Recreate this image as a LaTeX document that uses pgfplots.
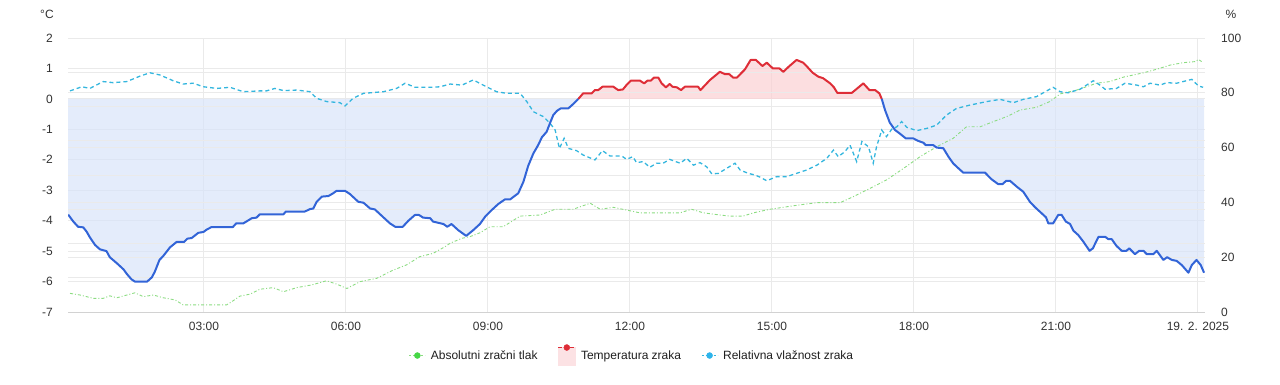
\documentclass[border=0pt]{standalone}
\usepackage{fontspec}
\setmainfont{Liberation Sans}
\usepackage{pgfplots}
\pgfplotsset{compat=1.18}
\usepackage{pgfplotstable}
\usepgfplotslibrary{fillbetween}

\definecolor{tblue}{RGB}{50,100,215}
\definecolor{tred}{RGB}{222,45,55}
\definecolor{bluefill}{RGB}{216,228,249}
\definecolor{pinkfill}{RGB}{251,208,211}
\definecolor{pinkleg}{RGB}{252,226,228}
\definecolor{humcol}{RGB}{52,182,222}
\definecolor{hummark}{RGB}{45,180,235}
\definecolor{prescol}{RGB}{140,220,130}
\definecolor{presmark}{RGB}{70,215,70}
\definecolor{gridcol}{RGB}{234,234,234}
\definecolor{axiscol}{RGB}{210,210,210}
\definecolor{labelcol}{RGB}{50,50,50}
\definecolor{legcol}{RGB}{30,30,30}

% temperature, below zero (blue), 00:00 - 10:55
\pgfplotstableread{
x y
0.13 -3.80
0.24 -4.03
0.34 -4.20
0.45 -4.22
0.52 -4.36
0.59 -4.55
0.70 -4.80
0.80 -4.94
0.94 -5.00
1.01 -5.20
1.16 -5.40
1.30 -5.60
1.37 -5.75
1.47 -5.93
1.54 -6.00
1.80 -6.00
1.90 -5.86
1.96 -5.68
2.06 -5.29
2.14 -5.16
2.28 -4.88
2.42 -4.70
2.58 -4.70
2.65 -4.59
2.74 -4.57
2.88 -4.40
2.99 -4.37
3.06 -4.29
3.16 -4.21
3.61 -4.21
3.68 -4.09
3.83 -4.09
4.01 -3.92
4.11 -3.90
4.18 -3.79
4.68 -3.79
4.73 -3.70
5.13 -3.70
5.24 -3.62
5.31 -3.60
5.38 -3.38
5.49 -3.21
5.63 -3.19
5.73 -3.10
5.80 -3.02
5.98 -3.02
6.08 -3.12
6.26 -3.38
6.37 -3.41
6.51 -3.60
6.61 -3.63
6.79 -3.89
6.93 -4.09
7.04 -4.20
7.20 -4.20
7.32 -4.00
7.46 -3.81
7.54 -3.81
7.63 -3.90
7.78 -3.92
7.84 -4.03
7.95 -4.07
8.06 -4.11
8.14 -4.20
8.23 -4.11
8.37 -4.31
8.54 -4.50
8.69 -4.31
8.83 -4.11
8.94 -3.87
9.08 -3.65
9.22 -3.45
9.36 -3.30
9.47 -3.30
9.64 -3.10
9.75 -2.72
9.85 -2.20
9.96 -1.79
10.06 -1.52
10.14 -1.26
10.24 -1.08
10.31 -0.80
10.38 -0.53
10.46 -0.39
10.54 -0.31
10.70 -0.31
10.80 -0.17
10.91 0.00
}\tempA

% temperature, above zero (red)
\pgfplotstableread{
x y
10.91 0.00
11.01 0.18
11.19 0.18
11.26 0.29
11.33 0.29
11.42 0.40
11.65 0.40
11.75 0.29
11.85 0.31
11.93 0.46
12.02 0.60
12.21 0.60
12.30 0.51
12.37 0.60
12.44 0.60
12.51 0.70
12.60 0.70
12.67 0.51
12.76 0.38
12.84 0.49
12.90 0.40
12.99 0.38
13.08 0.29
13.16 0.40
13.44 0.40
13.49 0.29
13.69 0.62
13.90 0.89
14.01 0.81
14.10 0.81
14.18 0.70
14.26 0.70
14.43 0.97
14.55 1.28
14.66 1.28
14.80 1.08
14.89 1.19
15.02 1.00
15.16 1.00
15.24 0.89
15.37 1.08
15.52 1.28
15.66 1.19
15.73 1.08
15.86 0.86
15.98 0.73
16.08 0.68
16.23 0.51
16.31 0.38
16.38 0.20
16.69 0.20
16.83 0.38
16.93 0.51
17.06 0.29
17.18 0.29
17.27 0.18
17.32 0.00
}\tempB

% temperature, below zero (blue), 17:19 - 24:08
\pgfplotstableread{
x y
17.32 0.00
17.39 -0.37
17.49 -0.78
17.60 -1.02
17.71 -1.15
17.83 -1.30
17.99 -1.30
18.09 -1.38
18.20 -1.44
18.25 -1.52
18.41 -1.52
18.48 -1.60
18.62 -1.62
18.73 -1.90
18.83 -2.12
18.94 -2.28
19.04 -2.42
19.50 -2.42
19.64 -2.64
19.78 -2.80
19.87 -2.80
19.95 -2.69
20.03 -2.69
20.17 -2.88
20.31 -3.05
20.45 -3.38
20.56 -3.56
20.70 -3.76
20.79 -3.89
20.84 -4.09
20.94 -4.09
21.05 -3.81
21.12 -3.81
21.21 -4.03
21.30 -4.11
21.37 -4.33
21.47 -4.47
21.58 -4.69
21.71 -4.99
21.78 -4.91
21.90 -4.53
22.04 -4.53
22.11 -4.61
22.18 -4.61
22.28 -4.83
22.39 -4.99
22.49 -4.99
22.55 -4.91
22.67 -5.10
22.76 -4.99
22.85 -4.99
22.92 -5.10
23.06 -5.10
23.13 -4.99
23.27 -5.29
23.35 -5.20
23.45 -5.29
23.55 -5.32
23.66 -5.46
23.80 -5.71
23.87 -5.46
23.97 -5.29
24.06 -5.46
24.13 -5.71
}\tempC

% relative humidity (%)
\pgfplotstableread{
x y
0.17 80.7
0.27 81.3
0.42 82.2
0.59 81.6
0.87 84.1
1.08 83.7
1.37 84.1
1.65 86.1
1.86 87.3
2.07 86.5
2.35 84.4
2.56 83.2
2.77 83.5
2.99 82.2
3.27 81.6
3.55 82.0
3.83 80.4
4.18 80.7
4.32 80.7
4.50 81.6
4.68 80.8
4.96 81.0
5.24 80.4
5.38 78.0
5.59 76.8
5.87 76.4
5.98 75.2
6.15 78.0
6.37 79.8
6.79 80.4
7.07 81.6
7.25 83.5
7.46 82.0
7.78 82.0
7.99 82.2
8.20 83.2
8.45 82.8
8.69 84.7
8.90 82.8
9.18 80.4
9.40 79.8
9.68 79.8
9.82 76.8
9.96 73.1
10.17 71.3
10.31 68.9
10.42 66.4
10.51 59.7
10.61 63.4
10.70 59.7
10.87 58.9
11.01 57.3
11.26 55.5
11.42 58.9
11.58 56.9
11.83 56.9
11.93 55.7
12.06 56.7
12.14 54.5
12.28 54.9
12.42 52.8
12.56 54.3
12.70 54.3
12.84 55.7
13.06 54.3
13.20 56.1
13.34 53.6
13.48 54.5
13.62 53.0
13.73 50.4
13.87 50.6
14.04 52.4
14.22 54.3
14.33 51.8
14.50 50.6
14.64 50.0
14.75 49.2
14.89 47.9
15.10 49.4
15.31 49.4
15.52 50.6
15.73 51.8
15.95 53.6
16.16 56.1
16.30 59.1
16.40 56.7
16.54 58.5
16.65 60.9
16.79 54.9
16.90 62.2
17.04 60.3
17.14 54.3
17.21 60.3
17.32 66.4
17.42 64.0
17.53 66.7
17.64 67.6
17.74 69.5
17.85 67.4
18.06 66.2
18.27 67.0
18.48 68.2
18.69 71.9
18.90 74.3
19.18 75.5
19.54 76.8
19.82 77.6
20.10 76.4
20.31 77.6
20.59 78.6
20.94 82.0
21.09 80.4
21.26 80.0
21.51 81.3
21.79 84.4
21.93 82.8
22.04 81.3
22.28 81.6
22.46 83.5
22.71 82.8
22.85 82.2
22.99 83.5
23.20 82.8
23.34 83.7
23.55 83.5
23.87 84.9
24.01 82.5
24.11 82.0
}\hum

% absolute air pressure (position on its own hidden scale, 0-100)
\pgfplotstableread{
x y
0.17 6.8
0.38 6.2
0.66 5.0
0.87 5.0
1.01 5.9
1.16 5.2
1.37 6.2
1.54 7.0
1.72 5.6
1.93 6.2
2.14 5.2
2.39 4.4
2.56 2.6
3.48 2.6
3.59 3.8
3.76 5.8
3.97 6.5
4.18 8.3
4.46 8.9
4.68 7.4
4.96 8.9
5.28 9.9
5.59 11.4
5.80 10.2
6.02 8.6
6.30 11.1
6.65 12.3
7.00 15.3
7.28 17.2
7.56 20.2
7.84 21.4
8.09 23.8
8.20 25.1
8.45 26.9
8.62 27.5
8.83 28.9
9.04 31.1
9.32 31.1
9.68 35.0
10.10 35.4
10.42 37.5
10.80 37.5
11.16 39.7
11.37 37.5
11.65 38.2
11.93 37.2
12.21 36.2
12.70 36.2
13.06 36.2
13.30 37.5
13.55 36.2
13.90 35.4
14.11 35.0
14.39 35.0
14.61 36.2
14.96 37.5
15.31 38.4
15.59 39.1
15.95 39.9
16.44 39.9
16.72 42.1
17.07 45.1
17.42 48.2
17.78 52.4
18.13 56.7
18.48 60.3
18.83 63.4
19.11 67.6
19.40 67.6
19.68 69.5
19.96 71.3
20.24 73.7
20.59 74.7
20.87 76.8
21.09 79.6
21.44 81.0
21.86 83.5
22.14 84.1
22.42 85.7
22.85 87.3
23.13 88.6
23.41 90.1
23.69 91.0
23.95 91.4
24.01 92.2
24.11 91.0
}\pres

\begin{document}
\begin{tikzpicture}[font=\fontsize{12}{14}\selectfont]
\path (0,0) rectangle (1280pt,384pt);
\pgfplotsset{
  base/.style={
    scale only axis, width=1137pt, height=274pt,
    at={(68pt,72pt)}, anchor=south west,
    xmin=0.127, xmax=24.15,
    axis line style={draw=none},
    major tick length=0pt, minor tick num=0,
    tick label style={font=\fontsize{12}{14}\selectfont, text=labelcol},
    grid style={gridcol, line width=1pt},
  }
}
% ---- axis 1: temperature scale, grid and fills
\begin{axis}[base,
  ymin=-7, ymax=2,
  ytick={-7,-6,-5,-4,-3,-2,-1,0,1,2},
  yticklabels={-7,-6,-5,-4,-3,-2,-1,0,1,2},
  xtick={3,6,9,12,15,18,21,24},
  xticklabels={03:00,06:00,09:00,12:00,15:00,18:00,21:00,{19. 2. 2025}},
  ymajorgrids, xmajorgrids,
  y tick label style={anchor=east, inner sep=0pt, xshift=-15pt},
  x tick label style={anchor=north, inner sep=0pt, yshift=-10pt},
  every axis y label/.style={at={(axis description cs:-0.0185,1.0876)}, anchor=center, text=labelcol},
  ylabel={°C},
]
\addplot[name path=zero, draw=none, forget plot] coordinates {(0,0) (25,0)};
\addplot[name path=A, draw=none, forget plot] table {\tempA};
\addplot[name path=B, draw=none, forget plot] table {\tempB};
\addplot[name path=C, draw=none, forget plot] table {\tempC};
\addplot[fill=bluefill, fill opacity=0.7, draw=none, forget plot] fill between[of=A and zero, soft clip={domain=0.13:10.91}];
\addplot[fill=pinkfill, fill opacity=0.7, draw=none, forget plot] fill between[of=B and zero, soft clip={domain=10.91:17.32}];
\addplot[fill=bluefill, fill opacity=0.7, draw=none, forget plot] fill between[of=C and zero, soft clip={domain=17.32:24.13}];
\end{axis}

% ---- axis 2: humidity scale (right), pressure grid, humidity & pressure lines
\begin{axis}[base,
  ymin=0, ymax=100,
  yticklabel pos=right,
  ytick={0,20,40,60,80,100},
  yticklabels={0,20,40,60,80,100},
  ymajorgrids,
  xtick=\empty,
  extra y ticks={12.5,25,37.5,50,62.5,75,87.5},
  extra y tick labels={},
  extra y tick style={grid=major},
  y tick label style={anchor=west, inner sep=0pt, xshift=16pt},
  every axis y label/.style={at={(axis description cs:1.0229,1.0876)}, anchor=center, text=labelcol},
  ylabel={\%},
]
\addplot[prescol, line width=0.9pt, dash pattern=on 3pt off 2pt on 1pt off 2pt, forget plot] table {\pres};
\addplot[humcol, line width=1.3pt, dash pattern=on 4pt off 3pt, forget plot] table {\hum};
\draw[axiscol, line width=1pt] (rel axis cs:0,0) -- (rel axis cs:1,0);
\end{axis}

% ---- axis 3: temperature lines and legend
\begin{axis}[base,
  ymin=-7, ymax=2,
  xtick=\empty, ytick=\empty,
  legend columns=3,
  legend cell align=left,
  legend style={at={(0.4956,-0.157)}, anchor=center, draw=none, fill=none,
    font=\fontsize{12}{14}\selectfont, text=legcol,
    nodes={inner sep=1pt},
    /tikz/every odd column/.append style={column sep=4pt},
    /tikz/every even column/.append style={column sep=19pt}},
]
\addplot[tblue, line width=2pt, line join=round, forget plot] table {\tempA};
\addplot[tred, line width=2pt, line join=round, forget plot] table {\tempB};
\addplot[tblue, line width=2pt, line join=round, forget plot] table {\tempC};
\addlegendimage{legend image code/.code={
  \draw[prescol, line width=1pt, dash pattern=on 2pt off 2pt] (0pt,0pt) -- (16pt,0pt);
  \fill[presmark] (8pt,0pt) circle (3pt);}}
\addlegendentry{Absolutni zračni tlak}
\addlegendimage{legend image code/.code={
  \fill[pinkleg] (0pt,-10pt) rectangle (17pt,8pt);
  \draw[tred, line width=1.5pt, dash pattern=on 4pt off 2pt] (0pt,8pt) -- (17pt,8pt);
  \fill[tred] (8.5pt,8pt) circle (3pt);}}
\addlegendentry{Temperatura zraka}
\addlegendimage{legend image code/.code={
  \draw[humcol, line width=1pt, dash pattern=on 2pt off 2pt] (0pt,0pt) -- (16pt,0pt);
  \fill[hummark] (8pt,0pt) circle (3pt);}}
\addlegendentry{Relativna vlažnost zraka}
\end{axis}
\end{tikzpicture}
\end{document}
